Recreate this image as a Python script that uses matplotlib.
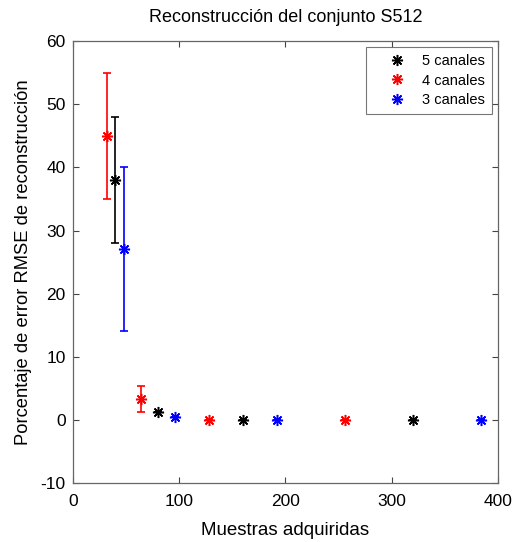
import matplotlib
matplotlib.use("Agg")
import matplotlib.pyplot as plt

plt.rcParams['font.family'] = ['Liberation Sans', 'DejaVu Sans']
plt.rcParams['axes.unicode_minus'] = False

# Samples acquired and reconstruction RMSE (%) for each channel count
x5 = [40, 80, 160, 320]
y5 = [38, 1.2, 0, 0]
e5 = [10, 0, 0, 0]

x4 = [32, 64, 128, 256]
y4 = [45, 3.3, 0, 0]
e4 = [10, 2, 0, 0]

x3 = [48, 96, 192, 384]
y3 = [27, 0.5, 0, 0]
e3 = [13, 0, 0, 0]

labels = ['5 canales', '4 canales', '3 canales']
colors = ['black', 'red', 'blue']

fig = plt.figure(figsize=(5.2, 5.42), dpi=100)
ax = fig.add_axes([0.140, 0.109, 0.818, 0.815])

asterisk = (8, 2, 0)
handles = []
for xs, ys, es, c, lab in zip([x5, x4, x3], [y5, y4, y3], [e5, e4, e3], colors, labels):
    ax.errorbar(xs, ys, yerr=es, fmt='none', ecolor=c, elinewidth=1.2, capsize=3, capthick=1.2)
    h, = ax.plot(xs, ys, linestyle='none', marker=asterisk, markersize=8,
                 markeredgewidth=1.1, color=c, label=lab)
    handles.append(h)

ax.set_xlim(0, 400)
ax.set_ylim(-10, 60)
ax.set_xticks([0, 100, 200, 300, 400])
ax.set_yticks(range(-10, 61, 10))
ax.tick_params(direction='in', top=True, right=True, length=4, labelsize=12.5, colors='#444444',
               labelcolor='black', pad=5)
ax.tick_params(axis='x', pad=8)
for s in ax.spines.values():
    s.set_color('#666666')
    s.set_linewidth(0.9)

ax.set_title('Reconstrucción del conjunto S512', fontsize=13, pad=14)
ax.set_xlabel('Muestras adquiridas', fontsize=13.5, labelpad=9)
ax.set_ylabel('Porcentaje de error RMSE de reconstrucción', fontsize=13.2, labelpad=6)

leg = ax.legend(handles=handles, loc='upper right', fontsize=10.5, frameon=True, fancybox=False,
                edgecolor='#555555', handlelength=3.3, borderaxespad=0.4, labelspacing=0.36,
                handletextpad=0.05, borderpad=0.5)
leg.get_frame().set_linewidth(0.8)

fig.savefig('out.png', dpi=100)
